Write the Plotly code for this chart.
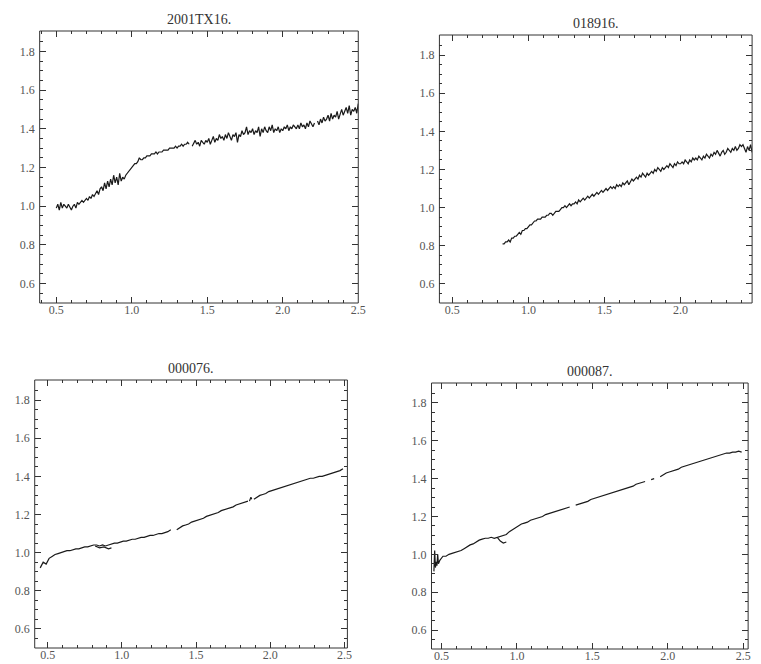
import plotly.graph_objects as go

# ---------------- data ----------------
titles = ["2001TX16.", "018916.", "000076.", "000087."]

# Panel 1: 2001TX16, wavelength start 0.50 um, step 0.01
tx16_x0, tx16_dx = 0.50, 0.01
tx16_y = [
    0.99, 1.01, 0.98, 1.02, 0.99, 1.01, 1.00, 0.99, 1.01, 0.99,
    0.98, 1.00, 1.01, 0.99, 1.02, 1.01, 1.02, 1.03, 1.02, 1.03,
    1.04, 1.03, 1.05, 1.04, 1.06, 1.05, 1.07, 1.08, 1.06, 1.09,
    1.10, 1.08, 1.12, 1.09, 1.13, 1.10, 1.14, 1.11, 1.16, 1.12,
    1.15, 1.11, 1.17, 1.13, 1.15, 1.14, 1.16, 1.17, 1.18, 1.19,
    1.20, 1.21, 1.22, 1.22, 1.23, 1.25, 1.24, 1.24, 1.25, 1.25,
    1.26, 1.26, 1.26, 1.27, 1.27, 1.27, 1.28, 1.27, 1.28, 1.28,
    1.28, 1.29, 1.29, 1.29, 1.29, 1.30, 1.30, 1.30, 1.30, 1.31,
    1.30, 1.31, 1.31, 1.32, 1.31, 1.32, 1.32, 1.33, 1.32, None,
    1.31, 1.33, 1.34, 1.32, 1.33, 1.31, 1.34, 1.33, 1.32, 1.34,
    1.33, 1.35, 1.32, 1.34, 1.36, 1.33, 1.35, 1.34, 1.37, 1.35,
    1.36, 1.34, 1.37, 1.35, 1.38, 1.36, 1.34, 1.37, 1.36, 1.38,
    1.33, 1.37, 1.36, 1.39, 1.37, 1.38, 1.41, 1.37, 1.39, 1.38,
    1.40, 1.37, 1.39, 1.38, 1.41, 1.36, 1.40, 1.38, 1.41, 1.39,
    1.38, 1.41, 1.39, 1.42, 1.38, 1.40, 1.39, 1.41, 1.38, 1.40,
    1.39, 1.41, 1.40, 1.42, 1.39, 1.41, 1.40, 1.42, 1.41, 1.40,
    1.42, 1.40, 1.43, 1.41, 1.42, 1.40, 1.43, 1.41, 1.44, 1.42,
    1.41, 1.43, None, 1.44, 1.42, 1.45, 1.43, 1.46, 1.44, 1.45,
    1.47, 1.44, 1.48, 1.45, 1.47, 1.46, 1.49, 1.45, 1.48, 1.50,
    1.47, 1.49, 1.51, 1.48, 1.52, 1.47, 1.50, 1.49, 1.51, 1.48,
    1.53,
]

# Panel 2: 018916, start 0.83 um, step 0.01
s018916_x0, s018916_dx = 0.83, 0.01
s018916_y = [
    0.81, 0.81, 0.82, 0.82, 0.83, 0.82, 0.84,
    0.84, 0.85, 0.85, 0.86, 0.87, 0.86, 0.88, 0.88, 0.89, 0.89,
    0.90, 0.91, 0.91, 0.92, 0.93, 0.93, 0.94, 0.94, 0.94, 0.95,
    0.95, 0.95, 0.96, 0.96, 0.97, 0.97, 0.96, 0.97, 0.98, 0.98,
    0.98, 0.99, 1.00, 1.00, 1.01, 1.00, 1.01, 1.02, 1.01, 1.02,
    1.02, 1.03, 1.02, 1.04, 1.03, 1.04, 1.05, 1.04, 1.05, 1.06,
    1.05, 1.06, 1.07, 1.06, 1.07, 1.08, 1.07, 1.08, 1.09, 1.08,
    1.09, 1.10, 1.09, 1.10, 1.11, 1.10, 1.11, 1.10, 1.12, 1.11,
    1.12, 1.11, 1.13, 1.12, 1.13, 1.14, 1.12, 1.14, 1.15, 1.14,
    1.15, 1.16, 1.15, 1.17, 1.16, 1.18, 1.17, 1.16, 1.18, 1.17,
    1.18, 1.19, 1.18, 1.20, 1.19, 1.21, 1.20, 1.19, 1.21, 1.20,
    1.21, 1.22, 1.21, 1.23, 1.22, 1.21, 1.23, 1.22, 1.24, 1.23,
    1.23, 1.24, 1.23, 1.25, 1.24, 1.23, 1.25, 1.24, 1.26, 1.25,
    1.26, 1.25, 1.27, 1.26, 1.25, 1.27, 1.26, 1.28, 1.27, 1.26,
    1.28, 1.27, 1.29, 1.28, 1.30, 1.28, 1.27, 1.29, 1.30, 1.28,
    1.29, 1.31, 1.30, 1.29, 1.31, 1.30, 1.32, 1.30, 1.31, 1.33,
    1.32, 1.33, 1.31, 1.29, 1.32, 1.30, 1.33, 1.29, 1.31,
]

# Panel 3: 000076, start 0.45 um, step 0.02
s076_x0, s076_dx = 0.45, 0.02
s076_y = [
    0.92, 0.95, 0.94, 0.97, 0.98, 0.99, 0.995, 1.00, 1.005, 1.01,
    1.01, 1.015, 1.02, 1.02, 1.025, 1.03, 1.03, 1.035, 1.04, 1.04,
    1.035, 1.04, 1.035, 1.04, 1.045, 1.05, 1.05, 1.055, 1.06, 1.06,
    1.065, 1.07, 1.07, 1.075, 1.08, 1.08, 1.085, 1.09, 1.09, 1.095,
    1.10, 1.10, 1.105, 1.11, 1.12, None, 1.12, 1.13, 1.14, 1.145,
    1.15, 1.16, 1.165, 1.17, 1.175, 1.18, 1.19, 1.195, 1.20, 1.205,
    1.21, 1.22, 1.225, 1.23, 1.235, 1.24, 1.25, 1.255, 1.26, 1.265,
    1.27, None, 1.28, 1.29, 1.30, 1.305, 1.31, 1.32, 1.325, 1.33,
    1.335, 1.34, 1.345, 1.35, 1.355, 1.36, 1.365, 1.37, 1.375, 1.38,
    1.385, 1.39, 1.39, 1.395, 1.40, 1.40, 1.405, 1.41, 1.415, 1.42,
    1.425, 1.43, 1.44,
]
s076_branch_x = [0.82, 0.85, 0.88, 0.91, 0.93]
s076_branch_y = [1.035, 1.025, 1.03, 1.02, 1.025]
s076_spike_x = [1.86, 1.87, 1.875]
s076_spike_y = [1.27, 1.29, 1.28]

# Panel 4: 000087, start 0.49 um, step 0.02
s087_x0, s087_dx = 0.49, 0.02
s087_y = [
    0.97, 0.99, 0.99, 1.00, 1.005, 1.01, 1.015, 1.02, 1.03, 1.04,
    1.05, 1.055, 1.065, 1.075, 1.08, 1.085, 1.085, 1.09, 1.085, 1.09,
    1.095, 1.10, 1.105, 1.12, 1.13, 1.14, 1.15, 1.16, 1.165, 1.17,
    1.18, 1.185, 1.19, 1.195, 1.20, 1.21, 1.215, 1.22, 1.225, 1.23,
    1.235, 1.24, 1.245, 1.25, None, 1.26, 1.265, 1.27, 1.275, 1.28,
    1.29, 1.295, 1.30, 1.305, 1.31, 1.315, 1.32, 1.325, 1.33, 1.335,
    1.34, 1.345, 1.35, 1.355, 1.36, 1.37, 1.375, 1.38, 1.385, None,
    1.395, 1.40, None, 1.41, 1.42, 1.43, 1.435, 1.44, 1.445, 1.45,
    1.46, 1.465, 1.47, 1.475, 1.48, 1.485, 1.49, 1.495, 1.50, 1.505,
    1.51, 1.515, 1.52, 1.525, 1.53, 1.535, 1.535, 1.54, 1.54, 1.545,
    1.54,
]
s087_start_x0, s087_start_dx = 0.45, 0.005
s087_start_y = [0.91, 1.02, 0.93, 0.96, 0.94, 1.00, 0.95, 0.96, 0.97]
s087_branch_x = [0.87, 0.89, 0.91, 0.93]
s087_branch_y = [1.09, 1.07, 1.06, 1.065]

x_ranges = [[0.39, 2.5], [0.415, 2.47], [0.413, 2.52], [0.434, 2.533]]
y_range = [0.5, 1.905]

# ---------------- figure ----------------
W, H = 761, 664
boxes = [  # left, right, top, bottom in pixels
    (32, 354, 23, 295),
    (436, 752, 27, 295),
    (27, 343, 372, 640),
    (428, 748, 375, 641),
]

SERIF = "Times New Roman, Liberation Serif, serif"
LINE = dict(color="#1a1a1a", width=1.2)
fig = go.Figure()

def add(panel, **kw):
    ax = "" if panel == 0 else str(panel + 1)
    fig.add_trace(go.Scatter(mode="lines", line=LINE, showlegend=False,
                             xaxis="x" + ax, yaxis="y" + ax, **kw))

add(0, x0=tx16_x0, dx=tx16_dx, y=tx16_y)
add(1, x0=s018916_x0, dx=s018916_dx, y=s018916_y)
add(2, x0=s076_x0, dx=s076_dx, y=s076_y)
add(2, x=s076_branch_x, y=s076_branch_y)
add(2, x=s076_spike_x, y=s076_spike_y)
add(3, x0=s087_x0, dx=s087_dx, y=s087_y)
add(3, x0=s087_start_x0, dx=s087_start_dx, y=s087_start_y)
add(3, x=s087_branch_x, y=s087_branch_y)

font_tick = dict(family=SERIF, size=12, color="#555")
layout = dict(width=W, height=H, margin=dict(l=0, r=0, t=0, b=0),
              paper_bgcolor="white", plot_bgcolor="white",
              annotations=[], shapes=[])

for i, (l, r, t, b) in enumerate(boxes):
    ax = "" if i == 0 else str(i + 1)
    common = dict(showline=False, mirror="ticks",
                  ticks="inside", ticklen=6, tickcolor="#333", tickwidth=1,
                  showgrid=False, zeroline=False, tickfont=font_tick,
                  tickformat=".1f", fixedrange=True)
    layout["xaxis" + ax] = dict(common, domain=[l / W, r / W], range=x_ranges[i],
                                anchor="y" + ax, tick0=0.5, dtick=0.5,
                                ticklabelstandoff=-2,
                                minor=dict(ticks="inside", ticklen=3, tick0=0.5,
                                           dtick=0.1, tickcolor="#333", showgrid=False))
    layout["yaxis" + ax] = dict(common, domain=[1 - b / H, 1 - t / H], range=y_range,
                                anchor="x" + ax, tick0=0.6, dtick=0.2,
                                ticklabelstandoff=4,
                                minor=dict(ticks="inside", ticklen=3, tick0=0.6,
                                           dtick=0.05, tickcolor="#333", showgrid=False))
    layout["shapes"].append(dict(
        type="rect", xref="x" + ax + " domain", yref="y" + ax + " domain",
        x0=0, x1=1, y0=0, y1=1, line=dict(color="#333", width=1), layer="above"))
    layout["annotations"].append(dict(
        text=titles[i], xref="paper", yref="paper", x=(l + r) / 2 / W,
        y=1 - (t - 2) / H, xanchor="center", yanchor="bottom", showarrow=False,
        font=dict(family=SERIF, size=14, color="#333")))

fig.update_layout(**layout)
fig.write_html("out.html")
